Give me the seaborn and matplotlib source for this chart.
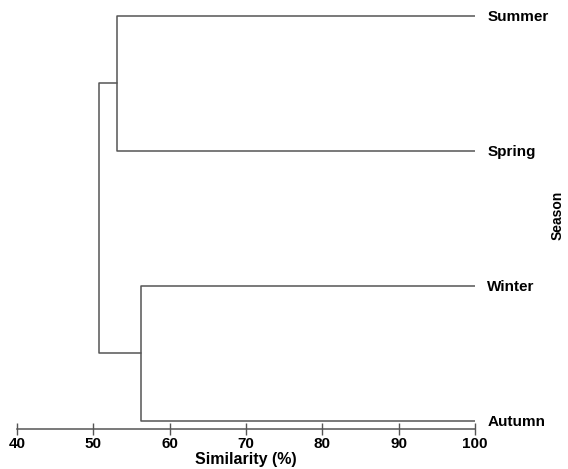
import pandas as pd
import matplotlib.pyplot as plt
import seaborn as sns
import numpy as np

# leaves from top to bottom and similarity (%) at which clusters merge
seasons = ['Summer', 'Spring', 'Winter', 'Autumn']
leaf_similarity = 100
pair_top = 53.1      # Summer + Spring
pair_bottom = 56.3   # Winter + Autumn
root_merge = 50.7    # both pairs

sns.set_style('white', {'xtick.bottom': True})
plt.rcParams['font.family'] = ['Liberation Sans', 'DejaVu Sans']

# y position of each leaf (bottom leaf at 0)
ypos = {s: len(seasons) - 1 - i for i, s in enumerate(seasons)}
y_top = (ypos['Summer'] + ypos['Spring']) / 2
y_bot = (ypos['Winter'] + ypos['Autumn']) / 2

# build the dendrogram links as U-shaped segments
segs = [
    ('top', [leaf_similarity, pair_top, pair_top, leaf_similarity],
     [ypos['Summer'], ypos['Summer'], ypos['Spring'], ypos['Spring']]),
    ('bottom', [leaf_similarity, pair_bottom, pair_bottom, leaf_similarity],
     [ypos['Winter'], ypos['Winter'], ypos['Autumn'], ypos['Autumn']]),
    ('root', [pair_top, root_merge, root_merge, pair_bottom],
     [y_top, y_top, y_bot, y_bot]),
]
rows = []
for name, xs, ys in segs:
    for k, (x, y) in enumerate(zip(xs, ys)):
        rows.append({'link': name, 'order': k, 'similarity': x, 'y': y})
links = pd.DataFrame(rows)

fig = plt.figure(figsize=(5.68, 4.69), dpi=100)
ax = fig.add_axes([0.030, 0.0853, 0.806, 0.898])

sns.lineplot(data=links, x='similarity', y='y', units='link', estimator=None,
             sort=False, color='#555555', lw=1.1, ax=ax, legend=False)

ax.set_xlim(40, 100)
ax.set_ylim(-0.06, 3.06)
ax.set_xticks(np.arange(40, 101, 10))
for s in ['top', 'left', 'right']:
    ax.spines[s].set_visible(False)
ax.spines['bottom'].set_color('#555555')
ax.spines['bottom'].set_linewidth(1.1)
ax.tick_params(axis='x', bottom=True, direction='inout', length=9, width=1,
               color='#555555', labelsize=11, labelcolor='black', pad=1)
for lab in ax.get_xticklabels():
    lab.set_fontweight('bold')
ax.set_xlabel('Similarity (%)', fontsize=11.5, fontweight='bold', color='black',
              labelpad=1)

ax.yaxis.tick_right()
ax.set_yticks([ypos[s] for s in seasons])
ax.set_yticklabels(seasons, fontsize=11, fontweight='bold', color='black')
ax.tick_params(axis='y', length=0, pad=9)
ax.set_ylabel('')
fig.text(0.981, 0.54, 'Season', rotation=90, fontsize=10, fontweight='bold',
         color='black', ha='center', va='center')

fig.savefig('out.png', dpi=100)
